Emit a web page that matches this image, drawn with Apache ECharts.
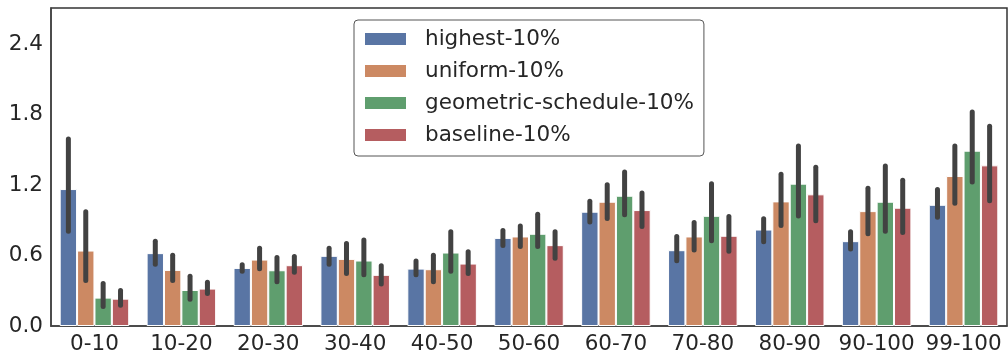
<!DOCTYPE html>
<html>
    <head>
        <meta charset=utf-8>
    </head>
    <body style="margin:0">
        <div id="chart" style="width:1008px;height:360px"></div>
        <script src="https://cdn.jsdelivr.net/npm/echarts@6/dist/echarts.min.js"></script>
        <script type="text/javascript">

            var myChart = echarts.init(document.querySelector('#chart'));

            let cats = ['0-10', '10-20', '20-30', '30-40', '40-50', '50-60', '60-70', '70-80', '80-90', '90-100', '99-100']
            let names = ['highest-10%', 'uniform-10%', 'geometric-schedule-10%', 'baseline-10%']
            let colors = ['#5975a4', '#cc8963', '#5f9e6e', '#b55d60']

            // mean values
            let highest   = [1.167, 0.621, 0.495, 0.598, 0.489, 0.751, 0.974, 0.646, 0.822, 0.723, 1.033]
            let uniform   = [0.643, 0.478, 0.566, 0.572, 0.484, 0.763, 1.059, 0.763, 1.062, 0.979, 1.278]
            let geometric = [0.242, 0.307, 0.475, 0.558, 0.626, 0.786, 1.110, 0.939, 1.213, 1.059, 1.494]
            let baseline  = [0.233, 0.319, 0.518, 0.436, 0.532, 0.689, 0.988, 0.769, 1.122, 1.008, 1.369]

            // confidence interval ends (low / high)
            let highestLo   = [0.79, 0.51, 0.45, 0.51, 0.42, 0.67, 0.87, 0.54, 0.70, 0.64, 0.91]
            let highestHi   = [1.61, 0.74, 0.54, 0.68, 0.57, 0.83, 1.08, 0.78, 0.93, 0.82, 1.18]
            let uniformLo   = [0.37, 0.37, 0.47, 0.43, 0.36, 0.66, 0.90, 0.63, 0.84, 0.77, 1.03]
            let uniformHi   = [0.99, 0.62, 0.68, 0.72, 0.62, 0.87, 1.22, 0.90, 1.31, 1.19, 1.55]
            let geometricLo = [0.15, 0.21, 0.36, 0.42, 0.45, 0.66, 0.93, 0.71, 0.92, 0.79, 1.21]
            let geometricHi = [0.38, 0.44, 0.60, 0.75, 0.82, 0.97, 1.33, 1.23, 1.55, 1.38, 1.84]
            let baselineLo  = [0.16, 0.26, 0.44, 0.34, 0.43, 0.56, 0.83, 0.62, 0.88, 0.78, 1.05]
            let baselineHi  = [0.32, 0.39, 0.61, 0.53, 0.65, 0.82, 1.15, 0.95, 1.37, 1.26, 1.72]

            let yTicks = [0, 0.6, 1.2, 1.8, 2.4]

            let means = [highest, uniform, geometric, baseline]
            let los = [highestLo, uniformLo, geometricLo, baselineLo]
            let his = [highestHi, uniformHi, geometricHi, baselineHi]

            let errData = []
            for (let s = 0; s < 4; s++) {
                for (let i = 0; i < cats.length; i++) {
                    errData.push([i, s, los[s][i], his[s][i]])
                }
            }

            let font = 'DejaVu Sans'
            let textColor = '#262626'

            let series = names.map(function (n, s) {
                return {
                    name: n,
                    type: 'bar',
                    data: means[s],
                    barGap: '0%',
                    barCategoryGap: '20%',
                    itemStyle: {color: colors[s], borderColor: '#fff', borderWidth: 1},
                    z: 2
                }
            })

            // error bars drawn on top of each bar
            series.push({
                type: 'custom',
                name: 'ci',
                data: errData,
                encode: {x: 0, y: [2, 3]},
                z: 5,
                renderItem: function (params, api) {
                    let c = api.value(0)
                    let s = api.value(1)
                    let band = api.size([1, 0])[0]
                    let bw = band * 0.8 / 4
                    let x = api.coord([c, 0])[0] + (s - 1.5) * bw
                    let y1 = api.coord([c, api.value(2)])[1]
                    let y2 = api.coord([c, api.value(3)])[1]
                    return {
                        type: 'line',
                        shape: {x1: x, y1: y1 - 2, x2: x, y2: y2 + 2},
                        style: {stroke: '#424242', lineWidth: 5, lineCap: 'round'}
                    }
                }
            })

            let option = {
                animation: false,
                textStyle: {fontFamily: font},
                grid: {
                    left: 51,
                    right: 1,
                    top: 8,
                    bottom: 34,
                    show: true,
                    borderColor: '#333',
                    borderWidth: 1.5,
                    backgroundColor: '#fff'
                },
                legend: {
                    data: names,
                    orient: 'vertical',
                    left: 354,
                    top: 20,
                    icon: 'rect',
                    itemWidth: 43,
                    itemHeight: 14,
                    itemGap: 10,
                    padding: [8, 10, 10, 9],
                    borderColor: '#555',
                    borderWidth: 1,
                    borderRadius: 4,
                    backgroundColor: '#fff',
                    selectedMode: false,
                    textStyle: {
                        fontFamily: font,
                        fontSize: 21.5,
                        lineHeight: 22,
                        color: textColor,
                        padding: [0, 0, 0, 13]
                    }
                },
                xAxis: {
                    type: 'category',
                    data: cats,
                    axisTick: {show: false},
                    axisLine: {lineStyle: {color: '#444', width: 1.5}},
                    axisLabel: {
                        interval: 0,
                        margin: 7,
                        fontFamily: font,
                        fontSize: 21.5,
                        color: textColor
                    }
                },
                yAxis: {
                    type: 'value',
                    min: 0,
                    max: 2.71,
                    interval: 0.6,
                    splitLine: {show: false},
                    axisTick: {show: false},
                    axisLine: {show: true, lineStyle: {color: '#444', width: 1.5}},
                    axisLabel: {
                        showMaxLabel: false,
                        margin: 8,
                        fontFamily: font,
                        fontSize: 21.5,
                        color: textColor,
                        formatter: function (v) {
                            return yTicks.indexOf(Math.round(v * 10) / 10) >= 0 ? v.toFixed(1) : ''
                        }
                    }
                },
                series: series
            }
            myChart.setOption(option);
        </script>
    </body>
</html>
